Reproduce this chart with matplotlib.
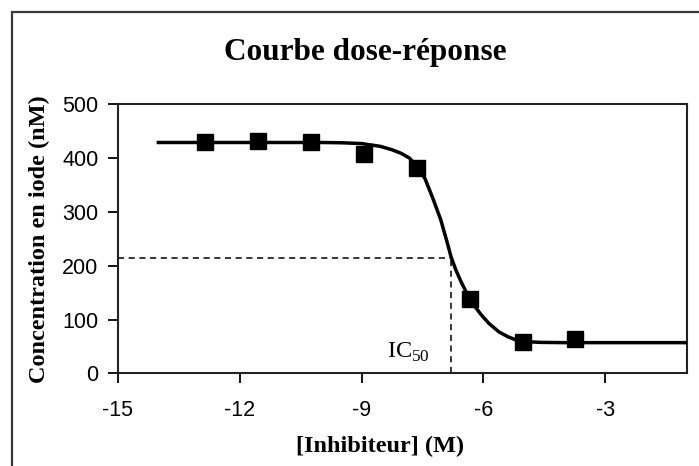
import matplotlib
matplotlib.use("Agg")
import matplotlib.pyplot as plt
from matplotlib.patches import Rectangle

# measured points (log10 of inhibitor concentration, iodine concentration in nM)
log_conc = [-12.85, -11.55, -10.24, -8.94, -7.64, -6.34, -5.04, -3.74]
iodine = [429, 432, 429, 407, 382, 138, 58, 63]

# fitted dose-response curve
fit_x = [-14, -10, -9.5, -9.0, -8.55, -8.27, -8.03, -7.82, -7.62, -7.44, -7.25,
         -7.05, -6.9, -6.8, -6.68, -6.55, -6.42, -6.34, -6.2, -6.07, -5.87,
         -5.62, -5.4, -5.2, -5.0, -4.6, -4.0, -1.0]
fit_y = [429, 429, 428.5, 427, 422, 416, 409, 400, 383, 362, 326,
         285, 245, 217, 192, 170, 150, 140, 123, 110, 93,
         77, 68, 62, 59, 57.5, 57, 57]

ic50_x = -6.8
ic50_y = 215

xticks = [-15, -12, -9, -6, -3]
yticks = [0, 100, 200, 300, 400, 500]

fig = plt.figure(figsize=(6.99, 4.66), dpi=100)
ax = fig.add_axes([0.1684, 0.1989, 0.814, 0.5773])

# outer chart border
fig.patches.append(Rectangle((12 / 699, -0.2), 1.2, 1.2 - 12 / 466,
                             transform=fig.transFigure, fill=False,
                             edgecolor='#3a3a3a', linewidth=1.6))

ax.plot(fit_x, fit_y, color='black', linewidth=2.5, zorder=3)
ax.plot(log_conc, iodine, 's', color='black', markersize=12, zorder=4)

# IC50 guide lines
ax.plot([-15, ic50_x], [ic50_y, ic50_y], color='black', linewidth=1.1,
        dashes=(4, 3))
ax.plot([ic50_x, ic50_x], [0, ic50_y], color='black', linewidth=1.1,
        dashes=(4, 3))
ax.text(ic50_x - 0.52, 28, r'IC$_\mathregular{50}$', ha='right', va='baseline',
        family='Liberation Serif', fontsize=17.5)

ax.set_xlim(-15, -1)
ax.set_ylim(0, 500)
ax.set_xticks(xticks)
ax.set_yticks(yticks)
ax.set_xticklabels([str(t) for t in xticks], family='Liberation Sans', fontsize=15.5)
ax.set_yticklabels([str(t) for t in yticks], family='Liberation Sans', fontsize=15.5)
ax.tick_params(direction='out', length=7, width=1.3)
ax.tick_params(axis='x', pad=12)
ax.tick_params(axis='y', pad=7)
for s in ax.spines.values():
    s.set_linewidth(1.5)
    s.set_color('#222222')

ax.set_xlabel('[Inhibiteur] (M)', family='Liberation Serif', fontweight='bold',
              fontsize=17.5)
ax.xaxis.set_label_coords(0.461, -0.233)
ax.set_ylabel('Concentration en iode (nM)', family='Liberation Serif',
              fontweight='bold', fontsize=17.5)
ax.yaxis.set_label_coords(-0.119, 0.5)
fig.text(0.522, 0.888, 'Courbe dose-réponse', ha='center', va='center',
         family='Liberation Serif', fontweight='bold', fontsize=22.5)

fig.savefig('out.png', dpi=100)
